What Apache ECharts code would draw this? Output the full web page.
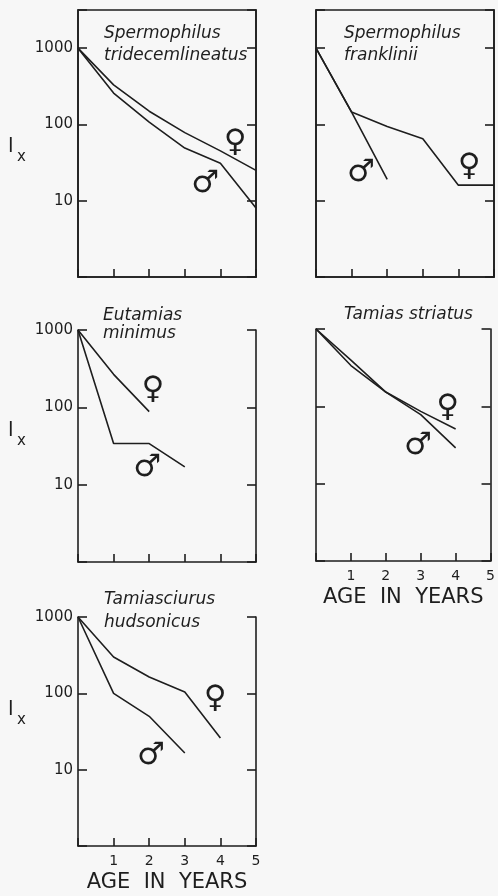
<!DOCTYPE html>
<html>
<head>
<meta charset="utf-8">
<script src="https://cdn.jsdelivr.net/npm/echarts@6/dist/echarts.min.js"></script>
<style>
  html, body { margin: 0; padding: 0; background: #f7f7f7; }
  #chart { width: 498px; height: 896px; }
</style>
</head>
<body>
<div id="chart"></div>
<script>
// age in years (x) and l_x survivorship per 1000 (log y)
const ageYears = [0, 1, 2, 3, 4, 5];
const xTickLabels = [1, 2, 3, 4, 5];
const yTickLabels = [10, 100, 1000];

const tridecemFemale = [1000, 330, 149, 78, 45, 25];
const tridecemMale = [1000, 258, 107, 49, 31, 8];
const frankliniiFemale = [1000, 145, 94, 65, 16, 16];
const frankliniiMale = [1000, 145, 19];
const minimusFemale = [1000, 267, 88];
const minimusMale = [1000, 34, 34, 17];
const striatusFemale = [1000, 395, 153, 86, 51];
const striatusMale = [1000, 337, 153, 78, 29];
const hudsonicusFemale = [1000, 299, 164, 104, 26];
const hudsonicusMale = [1000, 100, 50, 16.5];

const INK = '#1e1e1e';
const FONT = 'DejaVu Sans';

const panels = [
  { title: 'Spermophilus\ntridecemlineatus', titleLeft: 104, titleTop: 23, lh: 22,
    left: 78, top: 10, height: 267, ymax: 3162, box: true, yLabels: true, xLabels: false,
    female: tridecemFemale, male: tridecemMale, fPos: [4.41, 57], mPos: [3.57, 16.7] },
  { title: 'Spermophilus\nfranklinii', titleLeft: 344, titleTop: 23, lh: 22,
    left: 316, top: 10, height: 267, ymax: 3162, box: true, yLabels: false, xLabels: false,
    female: frankliniiFemale, male: frankliniiMale, fPos: [4.3, 28], mPos: [1.26, 23.4] },
  { title: 'Eutamias\nminimus', titleLeft: 103, titleTop: 307, lh: 18,
    left: 78, top: 330, height: 232, ymax: 1000, box: false, yLabels: true, xLabels: false,
    female: minimusFemale, male: minimusMale, fPos: [2.1, 167], mPos: [1.94, 16.4] },
  { title: 'Tamias striatus', titleLeft: 344, titleTop: 305, lh: 20,
    left: 316, top: 329, height: 232, ymax: 1000, box: false, yLabels: false, xLabels: true,
    female: striatusFemale, male: striatusMale, fPos: [3.77, 95], mPos: [2.92, 31] },
  { title: 'Tamiasciurus\nhudsonicus', titleLeft: 104, titleTop: 588, lh: 23,
    left: 78, top: 617, height: 229, ymax: 1000, box: false, yLabels: true, xLabels: true,
    female: hudsonicusFemale, male: hudsonicusMale, fPos: [3.85, 84], mPos: [2.05, 15] }
];

const toPairs = vals => vals.map((v, i) => [ageYears[i], v]);

const grid = [], xAxis = [], yAxis = [], series = [], title = [];

panels.forEach((p, i) => {
  grid.push({
    left: p.left, top: p.top, width: 178, height: p.height,
    show: p.box, borderColor: INK, borderWidth: 1.6, backgroundColor: 'transparent'
  });
  title.push({
    text: p.title, left: p.titleLeft, top: p.titleTop, padding: 0,
    textStyle: { fontFamily: FONT, fontStyle: 'italic', fontWeight: 'normal',
      fontSize: 17, lineHeight: p.lh, color: INK }
  });
  xAxis.push({
    gridIndex: i, type: 'value', min: 0, max: 5, interval: 1,
    axisLine: { show: true, lineStyle: { color: INK, width: 1.6 } },
    axisTick: { show: true, inside: true, length: 8, lineStyle: { color: INK, width: 1.6 } },
    axisLabel: {
      show: p.xLabels, margin: 8, color: INK, fontFamily: FONT, fontSize: 14,
      formatter: v => xTickLabels.includes(Math.round(v)) ? String(Math.round(v)) : ''
    },
    splitLine: { show: false },
    name: p.xLabels ? 'AGE  IN  YEARS' : '',
    nameLocation: 'middle', nameGap: 26,
    nameTextStyle: { color: INK, fontFamily: FONT, fontSize: 21 }
  });
  const yBase = {
    gridIndex: i, type: 'log', logBase: 10, min: 1, max: p.ymax,
    axisLine: { show: true, lineStyle: { color: INK, width: 1.6 } },
    axisTick: { show: true, inside: true, length: 9, lineStyle: { color: INK, width: 1.6 } },
    splitLine: { show: false }
  };
  yAxis.push(Object.assign({}, yBase, {
    position: 'left',
    axisLabel: {
      show: p.yLabels, margin: 5, color: INK, fontFamily: FONT, fontSize: 15,
      formatter: v => yTickLabels.includes(Math.round(v)) ? String(Math.round(v)) : ''
    }
  }));
  yAxis.push(Object.assign({}, yBase, { position: 'right', axisLabel: { show: false } }));

  const mark = (sym, pos) => ({
    symbol: 'rect', symbolSize: 1, silent: true,
    itemStyle: { color: 'transparent' },
    label: { show: true, position: 'inside', formatter: sym, color: INK,
      fontFamily: FONT, fontSize: 31 },
    data: [{ coord: pos }]
  });
  const lineBase = {
    type: 'line', xAxisIndex: i, yAxisIndex: 2 * i, symbol: 'none', silent: true,
    lineStyle: { color: INK, width: 1.6 }, animation: false
  };
  series.push(Object.assign({}, lineBase, { name: 'female', data: toPairs(p.female), markPoint: mark('\u2640', p.fPos) }));
  series.push(Object.assign({}, lineBase, { name: 'male', data: toPairs(p.male), markPoint: mark('\u2642', p.mPos) }));
});

// l_x axis titles
const lxAt = [147, 431, 710];
const graphic = [];
lxAt.forEach(y => {
  graphic.push({ type: 'text', left: 8, top: y - 10,
    style: { text: 'l', font: '20px "DejaVu Sans"', fill: INK } });
  graphic.push({ type: 'text', left: 17, top: y + 3,
    style: { text: 'x', font: '15px "DejaVu Sans"', fill: INK } });
});

const chart = echarts.init(document.getElementById('chart'));
chart.setOption({
  backgroundColor: '#f7f7f7',
  animation: false,
  title, grid, xAxis, yAxis, series, graphic
});
</script>
</body>
</html>
